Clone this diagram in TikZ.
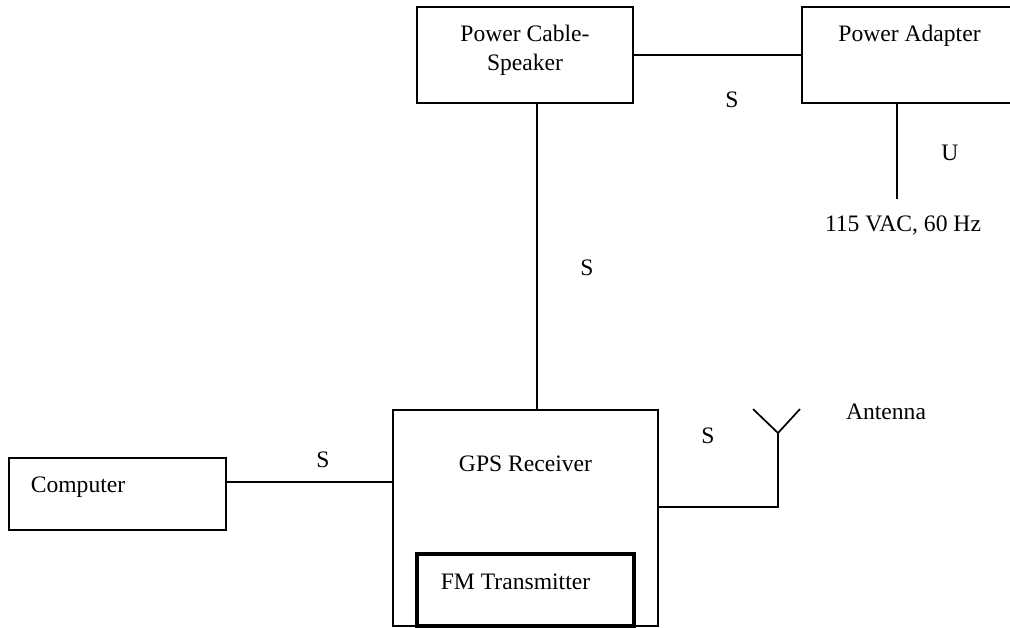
\documentclass[tikz,border=0pt]{standalone}
\usepackage{fontspec}
\setmainfont{Liberation Serif}
\begin{document}
\begin{tikzpicture}[x=0.5pt,y=-0.5pt,
  box/.style={draw,line width=0.85pt,inner sep=0,outer sep=0,anchor=north west},
  thickbox/.style={box,line width=2pt},
  wire/.style={line width=0.85pt},
  lbl/.style={inner sep=0,text height=8pt,text depth=0pt,font=\fontsize{11.8}{14.5}\selectfont}]
\useasboundingbox (0,0) rectangle (1010,627);
\clip (0,0) rectangle (1010,627);
% boxes
\node[box,minimum width=108pt,minimum height=48pt] (pcs) at (417,7) {};
\node[box,minimum width=107.5pt,minimum height=48pt] (pa) at (802,7) {};
\node[box,minimum width=132.5pt,minimum height=108pt] (gps) at (393,410) {};
\node[thickbox,minimum width=108.5pt,minimum height=36pt] (fm) at (417,554) {};
\node[box,minimum width=108.5pt,minimum height=36pt] (comp) at (9,458) {};
% texts
\node[inner sep=0,anchor=north,align=center,font=\fontsize{11.8}{14.5}\selectfont] (tpcs) at (525,25) {Power Cable-\\Speaker};
\node[lbl] (tpa) at (909.5,33) {Power Adapter};
\node[lbl] (s1) at (732,99) {S};
\node[lbl] (u1) at (950,152) {U};
\node[lbl] (vac) at (903,223) {115 VAC, 60 Hz};
\node[lbl] (s2) at (587,267) {S};
\node[lbl] (tgps) at (525.5,463) {GPS Receiver};
\node[lbl] (tfm) at (515.5,581) {FM Transmitter};
\node[lbl] (tcomp) at (78,484) {Computer};
\node[lbl] (s3) at (323,459) {S};
\node[lbl] (s4) at (708,435) {S};
\node[lbl] (tant) at (886,411) {Antenna};
% connectors
\coordinate (vline) at (537,200);
\coordinate (ac) at (897,199);
\coordinate (cl) at (300,482);
\coordinate (al) at (700,507);
\coordinate (ant) at (778,433);
\draw[wire] (pcs.east) -- (pa.west);
\draw[wire] (vline |- pcs.south) -- (vline |- gps.north);
\draw[wire] (ac |- pa.south) -- (ac);
\draw[wire] (cl -| comp.east) -- (cl -| gps.west);
\draw[wire] (al -| gps.east) -- (al -| ant) -- (ant);
\draw[wire] (ant) -- ++(-25,-24);
\draw[wire] (ant) -- ++(22,-24);
\end{tikzpicture}
\end{document}
